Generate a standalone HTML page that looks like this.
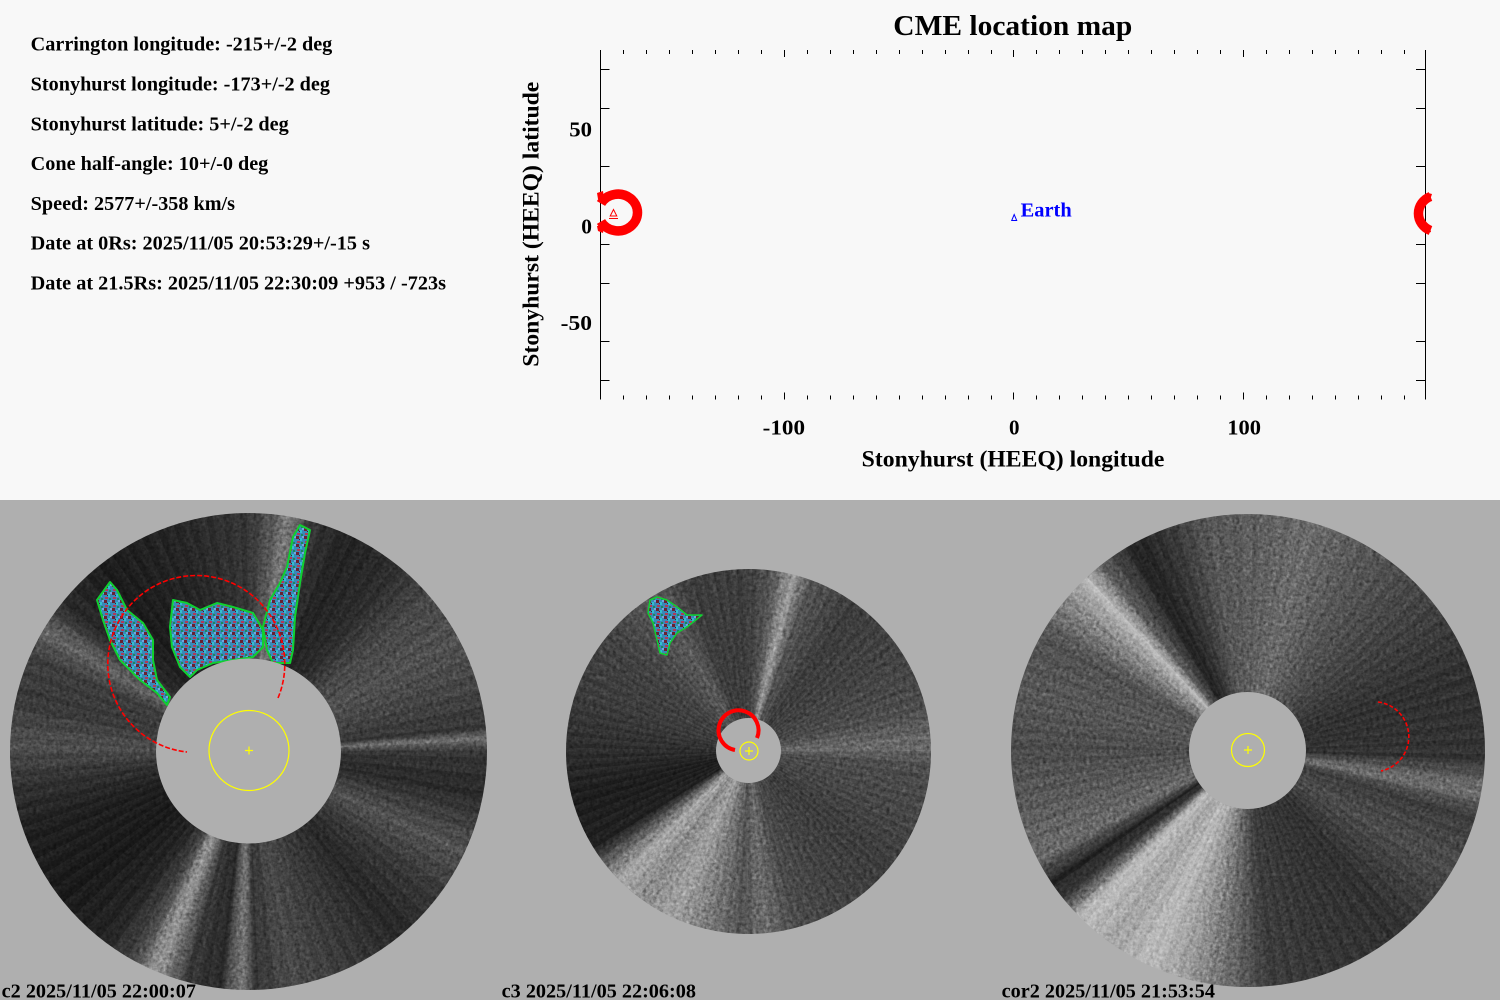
<!DOCTYPE html>
<html><head><meta charset="utf-8">
<style>
html,body{margin:0;padding:0;}
body{width:1500px;height:1000px;position:relative;overflow:hidden;background:#f8f8f8;font-family:"Liberation Serif",serif;}
#bottom{position:absolute;left:0;top:500px;width:1500px;height:500px;background:#afafaf;}
.disc{position:absolute;border-radius:50%;}
#d1{left:10px;top:513px;width:477px;height:477px;background:
 linear-gradient(rgba(0,0,0,0.12),rgba(0,0,0,0.12)),
 repeating-conic-gradient(rgba(255,255,255,0.035) 0deg 1.3deg, rgba(0,0,0,0.045) 1.3deg 2.9deg, rgba(255,255,255,0.02) 2.9deg 4.1deg),
 conic-gradient(#3a3a3a 0deg,#5a5a5a 5deg,#8e8e8e 10deg,#3a3a3a 15deg,#242424 25deg,#303030 38deg,#505050 50deg,#5a5a5a 62deg,#4a4a4a 75deg,#3a3a3a 84deg,#7c7c7c 87deg,#3a3a3a 90deg,#2c2c2c 100deg,#5c5c5c 115deg,#3c3c3c 127deg,#2a2a2a 140deg,#3e3e3e 155deg,#525252 170deg,#3a3a3a 178deg,#8a8a8a 182deg,#2c2c2c 187deg,#3c3c3c 195deg,#b0b0b0 203deg,#4a4a4a 209deg,#262626 217deg,#1a1a1a 232deg,#202020 250deg,#363636 262deg,#585858 272deg,#3e3e3e 283deg,#444 294deg,#727272 301deg,#2e2e2e 308deg,#1c1c1c 322deg,#262626 340deg,#3a3a3a 360deg);}
#d2{left:566px;top:569px;width:365px;height:365px;background:
 repeating-conic-gradient(rgba(255,255,255,0.035) 0deg 1.1deg, rgba(0,0,0,0.045) 1.1deg 2.6deg, rgba(255,255,255,0.02) 2.6deg 3.7deg),
 conic-gradient(#3a3a3a 0deg,#555 8deg,#9c9c9c 14deg,#525252 20deg,#3a3a3a 35deg,#404040 55deg,#4a4a4a 75deg,#6a6a6a 88deg,#4a4a4a 95deg,#454545 110deg,#3a3a3a 130deg,#404040 150deg,#4a4a4a 165deg,#6c6c6c 175deg,#505050 182deg,#808080 195deg,#a2a2a2 205deg,#8a8a8a 215deg,#aaaaaa 225deg,#606060 232deg,#1e1e1e 238deg,#1a1a1a 255deg,#2a2a2a 270deg,#3a3a3a 290deg,#404040 310deg,#585858 330deg,#3a3a3a 340deg,#3a3a3a 360deg);}
#d3{left:1011px;top:514px;width:474px;height:473px;background:
 repeating-conic-gradient(rgba(255,255,255,0.035) 0deg 1.2deg, rgba(0,0,0,0.045) 1.2deg 2.7deg, rgba(255,255,255,0.02) 2.7deg 3.9deg),
 conic-gradient(#5a5a5a 0deg,#6a6a6a 15deg,#555 30deg,#404040 50deg,#2e2e2e 70deg,#303030 92deg,#727272 100deg,#3a3a3a 106deg,#4a4a4a 120deg,#2e2e2e 140deg,#333 160deg,#3a3a3a 175deg,#6a6a6a 185deg,#9a9a9a 195deg,#bcbcbc 205deg,#a5a5a5 215deg,#c0c0c0 225deg,#3a3a3a 231deg,#1e1e1e 236deg,#6a6a6a 243deg,#5a5a5a 255deg,#4a4a4a 270deg,#555 285deg,#505050 300deg,#8a8a8a 310deg,#bcbcbc 317deg,#5a5a5a 322deg,#1e1e1e 331deg,#333 340deg,#555 350deg,#5a5a5a 360deg);}
#noise{position:absolute;left:0;top:0;mix-blend-mode:overlay;}
#ov{position:absolute;left:0;top:0;}
</style></head>
<body>
<div id="bottom"></div>
<div class="disc" id="d1"></div>
<div class="disc" id="d2"></div>
<div class="disc" id="d3"></div>

<svg id="noise" width="1500" height="1000" viewBox="0 0 1500 1000">
<defs>
<filter id="nf" x="0" y="0" width="100%" height="100%" color-interpolation-filters="sRGB">
<feTurbulence type="fractalNoise" baseFrequency="0.3" numOctaves="2" seed="5"/>
<feColorMatrix type="matrix" values="0.6 0.6 0.6 0 -0.4  0.6 0.6 0.6 0 -0.4  0.6 0.6 0.6 0 -0.4  0 0 0 0 1"/>
</filter>
<clipPath id="dc">
<circle cx="248.5" cy="751.5" r="238.5"/>
<circle cx="748.5" cy="751.5" r="182.5"/>
<circle cx="1248" cy="750.5" r="236.5"/>
</clipPath>
</defs>
<rect x="0" y="500" width="1500" height="500" filter="url(#nf)" clip-path="url(#dc)" opacity="0.45"/>
</svg>

<svg id="ov" width="1500" height="1000" viewBox="0 0 1500 1000" font-family="Liberation Serif, serif" font-weight="bold">
<defs>
<pattern id="cme" width="8" height="8" patternUnits="userSpaceOnUse">
<rect width="8" height="8" fill="#3a88b8"/>
<rect x="0" y="0" width="3" height="3" fill="#6a2030"/>
<rect x="4" y="2" width="2" height="3" fill="#30c0d0"/>
<rect x="1" y="5" width="3" height="2" fill="#b03a5a"/>
<rect x="5" y="6" width="2" height="2" fill="#1a8a5a"/>
<rect x="6" y="0" width="2" height="2" fill="#70a8e0"/>
<rect x="3" y="3" width="1" height="1" fill="#4a1828"/>
</pattern>
</defs>

<g font-size="20" fill="#000">
<text x="30.7" y="50.7" textLength="301.6" lengthAdjust="spacingAndGlyphs">Carrington longitude: -215+/-2 deg</text>
<text x="30.7" y="90.5" textLength="299.3" lengthAdjust="spacingAndGlyphs">Stonyhurst longitude: -173+/-2 deg</text>
<text x="30.7" y="130.3" textLength="258" lengthAdjust="spacingAndGlyphs">Stonyhurst latitude: 5+/-2 deg</text>
<text x="30.7" y="170.1" textLength="237.6" lengthAdjust="spacingAndGlyphs">Cone half-angle: 10+/-0 deg</text>
<text x="30.7" y="209.9" textLength="204.3" lengthAdjust="spacingAndGlyphs">Speed: 2577+/-358 km/s</text>
<text x="30.7" y="249.7" textLength="339.3" lengthAdjust="spacingAndGlyphs">Date at 0Rs: 2025/11/05 20:53:29+/-15 s</text>
<text x="30.7" y="289.5" textLength="415.3" lengthAdjust="spacingAndGlyphs">Date at 21.5Rs: 2025/11/05 22:30:09 +953 / -723s</text>
</g>

<text x="893.3" y="35" font-size="29" textLength="239" lengthAdjust="spacingAndGlyphs">CME location map</text>

<g stroke="#000" stroke-width="1" fill="none">
<line x1="600.5" y1="50" x2="600.5" y2="399.5"/>
<line x1="1425.5" y1="50" x2="1425.5" y2="399.5"/>
<path d="M600 69.5H609.5M600 108.5H609.5M600 166.5H609.5M600 244.5H609.5M600 283.5H609.5M600 341.5H609.5M600 380.5H609.5"/>
<path d="M1416 69.5H1425.5M1416 108.5H1425.5M1416 166.5H1425.5M1416 244.5H1425.5M1416 283.5H1425.5M1416 341.5H1425.5M1416 380.5H1425.5"/>
<path d="M623.5 50V54M646.5 50V54M669.5 50V54M692.5 50V54M715.5 50V54M738.5 50V54M761.5 50V54M807.5 50V54M830.5 50V54M853.5 50V54M876.5 50V54M899.5 50V54M922.5 50V54M945.5 50V54M968.5 50V54M991.5 50V54M1036.5 50V54M1059.5 50V54M1082.5 50V54M1105.5 50V54M1128.5 50V54M1151.5 50V54M1174.5 50V54M1197.5 50V54M1220.5 50V54M1266.5 50V54M1289.5 50V54M1312.5 50V54M1335.5 50V54M1358.5 50V54M1381.5 50V54M1404.5 50V54"/>
<path d="M784.5 50V57M1013.5 50V57M1243.5 50V57"/>
<path d="M623.5 395.5V399.5M646.5 395.5V399.5M669.5 395.5V399.5M692.5 395.5V399.5M715.5 395.5V399.5M738.5 395.5V399.5M761.5 395.5V399.5M807.5 395.5V399.5M830.5 395.5V399.5M853.5 395.5V399.5M876.5 395.5V399.5M899.5 395.5V399.5M922.5 395.5V399.5M945.5 395.5V399.5M968.5 395.5V399.5M991.5 395.5V399.5M1036.5 395.5V399.5M1059.5 395.5V399.5M1082.5 395.5V399.5M1105.5 395.5V399.5M1128.5 395.5V399.5M1151.5 395.5V399.5M1174.5 395.5V399.5M1197.5 395.5V399.5M1220.5 395.5V399.5M1266.5 395.5V399.5M1289.5 395.5V399.5M1312.5 395.5V399.5M1335.5 395.5V399.5M1358.5 395.5V399.5M1381.5 395.5V399.5M1404.5 395.5V399.5"/>
<path d="M784.5 392.5V399.5M1013.5 392.5V399.5M1243.5 392.5V399.5"/>
</g>

<g font-size="21" fill="#000">
<text x="762.7" y="434.3" textLength="42.3" lengthAdjust="spacingAndGlyphs">-100</text>
<text x="1009" y="434.3" textLength="10.5" lengthAdjust="spacingAndGlyphs">0</text>
<text x="1227.3" y="434.3" textLength="33.7" lengthAdjust="spacingAndGlyphs">100</text>
<text x="569.3" y="136.7" textLength="22.7" lengthAdjust="spacingAndGlyphs">50</text>
<text x="581.3" y="233.3" textLength="10.7" lengthAdjust="spacingAndGlyphs">0</text>
<text x="560.7" y="330" textLength="31.3" lengthAdjust="spacingAndGlyphs">-50</text>
</g>

<text x="861.7" y="466.5" font-size="23" textLength="302.7" lengthAdjust="spacingAndGlyphs">Stonyhurst (HEEQ) longitude</text>
<text transform="translate(538.5,366.7) rotate(-90)" font-size="23" textLength="285" lengthAdjust="spacingAndGlyphs">Stonyhurst (HEEQ) latitude</text>

<g fill="none" stroke="#ff0000" stroke-width="9.5">
<path d="M601,203.5 A19.5,18.4 0 1 1 601,221.5"/>
<path d="M1430.5,196.5 A19.5,18.4 0 0 0 1430.5,230.5"/>
</g>
<g fill="#ff0000">
<polygon points="597,193 603,191 604,199 598,199"/>
<polygon points="597,226 604,226 603,233 598,231"/>
<polygon points="1428,193 1432,194 1430,200 1426,199"/>
<polygon points="1426,227 1430,227 1431,232 1428,233"/>
</g>
<g fill="none" stroke="#ff0000" stroke-width="1">
<polygon points="613.5,209.5 610.2,216 616.8,216"/>
<line x1="609" y1="218.5" x2="618" y2="218.5"/>
</g>
<polygon points="1014.2,214.5 1011.7,220.5 1016.7,220.5" fill="none" stroke="#0000ff" stroke-width="1"/>
<text x="1020.7" y="216.7" font-size="20" fill="#0000ff" textLength="51" lengthAdjust="spacingAndGlyphs">Earth</text>

<g fill="url(#cme)" stroke="#10d030" stroke-width="2" stroke-linejoin="round">
<polygon points="110,582 97,600 103,620 110,640 120,660 140,680 157,693 167,705 170,697 157,680 153,660 153,640 143,623 127,610 117,590"/>
<polygon points="173,600 187,603 200,610 217,603 233,607 253,613 263,630 263,647 253,657 233,660 213,663 197,670 190,677 180,667 172,647 170,627"/>
<polygon points="300,525 310,530 305,553 300,583 295,617 293,650 290,663 273,663 267,650 263,627 270,600 280,583 287,567 293,537"/>
<polygon points="657,597 667,600 677,607 687,615 702,615 687,627 677,633 670,643 667,655 660,653 657,640 653,623 648,613 650,600" stroke-width="1.5"/>
</g>

<g fill="#afafaf">
<circle cx="248.5" cy="751" r="92.5"/>
<circle cx="748.5" cy="750.5" r="32.5"/>
<circle cx="1247.5" cy="750.5" r="58.5"/>
</g>

<g fill="none" stroke="#ffff00" stroke-width="1.2">
<circle cx="249" cy="750.5" r="40"/>
<path d="M245 750.5H253M249 746.5V754.5"/>
<circle cx="749" cy="751" r="9"/>
<path d="M745 751H753M749 747V755"/>
<circle cx="1248" cy="750" r="16.5"/>
<path d="M1244 750H1252M1248 746V754"/>
</g>

<path d="M278,698 A88.5,88.5 0 1 0 187,752" fill="none" stroke="#ff0000" stroke-width="1.6" stroke-dasharray="5 2"/>
<path d="M757,738 A20,20 0 1 0 735,750" fill="none" stroke="#ff0000" stroke-width="4"/>
<path d="M1378,702 A35,35 0 0 1 1381,771" fill="none" stroke="#ff0000" stroke-width="1.6" stroke-dasharray="4 2"/>

<g font-size="20" fill="#000">
<text x="1.7" y="997.3" textLength="194.3" lengthAdjust="spacingAndGlyphs">c2 2025/11/05 22:00:07</text>
<text x="501.7" y="997.3" textLength="194.3" lengthAdjust="spacingAndGlyphs">c3 2025/11/05 22:06:08</text>
<text x="1001.7" y="997.3" textLength="213.3" lengthAdjust="spacingAndGlyphs">cor2 2025/11/05 21:53:54</text>
</g>
</svg>
</body></html>
